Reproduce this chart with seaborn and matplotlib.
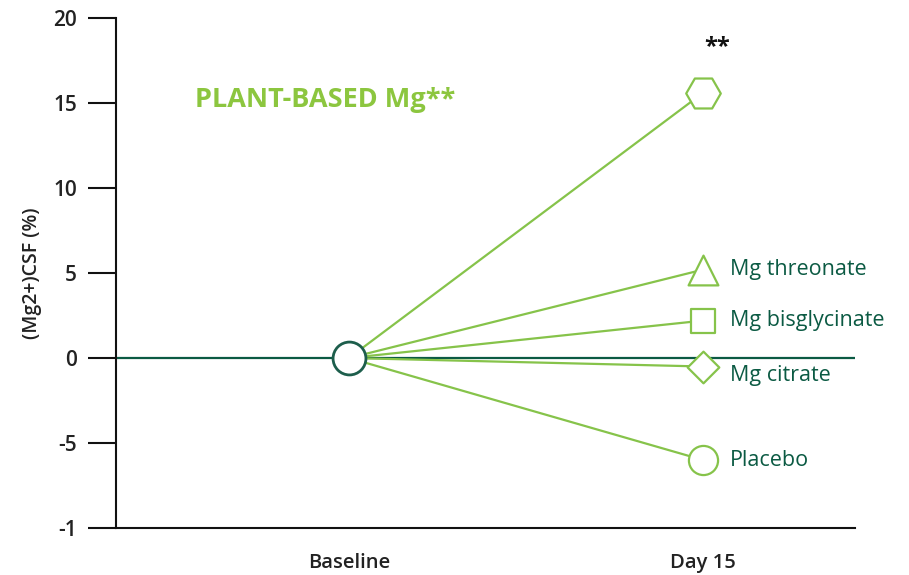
import numpy as np
import pandas as pd
import matplotlib
matplotlib.use("Agg")
import matplotlib.pyplot as plt
import seaborn as sns

# data
timepoints = ["Baseline", "Day 15"]
series = ["Plant-based Mg", "Mg threonate", "Mg bisglycinate", "Mg citrate", "Placebo"]
day15_values = [15.6, 5.2, 2.2, -0.5, -6.0]
baseline_values = [0, 0, 0, 0, 0]
markers = ["H", "^", "s", "D", "o"]
labels_right = ["", "Mg threonate", "Mg bisglycinate", "Mg citrate", "Placebo"]
label_y = [None, 5.2, 2.2, -1.05, -6.0]
ytick_vals = [-10, -5, 0, 5, 10, 15, 20]
ytick_labels = ["-1", "-5", "0", "5", "10", "15", "20"]

LIGHT = "#86c34a"
DARK = "#0b5a43"

rows = []
for s, b, d in zip(series, baseline_values, day15_values):
    rows.append({"series": s, "x": 0, "value": b})
    rows.append({"series": s, "x": 1, "value": d})
df = pd.DataFrame(rows)

sns.set_style("white")
plt.rcParams["font.family"] = ["Open Sans", "DejaVu Sans"]

fig = plt.figure(figsize=(9.09, 5.75), dpi=100)
ax = fig.add_axes([0.1276, 0.0817, 0.813, 0.887])

ax.axhline(0, color=DARK, lw=1.6, zorder=1)

sns.lineplot(data=df, x="x", y="value", units="series", estimator=None,
             color=LIGHT, lw=1.6, ax=ax, zorder=2)

# markers at day 15
sizes = [620, 460, 280, 260, 440]
for s, v, m, sz in zip(series, day15_values, markers, sizes):
    sns.scatterplot(x=[1], y=[v], marker=m, s=sz, facecolor="white",
                    edgecolor=LIGHT, linewidth=1.6, ax=ax, zorder=4)

# baseline circle
sns.scatterplot(x=[0], y=[0], marker="o", s=560, facecolor="white",
                edgecolor="#1d5e4c", linewidth=2.0, ax=ax, zorder=5)

for lab, v in zip(labels_right, label_y):
    if lab:
        ax.text(1.075, v, lab, color=DARK, fontsize=15.5, va="center", ha="left")

ax.text(1.04, 18.3, "**", color="#111111", fontsize=17, fontweight="bold",
        ha="center", va="center")
ax.text(-0.435, 15.2, "PLANT-BASED Mg**", color="#8cc63f", fontsize=19.5,
        fontweight="bold", ha="left", va="center")

ax.set_xlim(-0.658, 1.429)
ax.set_ylim(-10, 20)
ax.set_xticks([0, 1])
ax.set_xticklabels(timepoints, fontsize=14.5, color="#222222", fontweight="semibold")
ax.set_yticks(ytick_vals)
ax.set_yticklabels(ytick_labels, fontsize=15, color="#222222", fontweight="semibold")
ax.tick_params(axis="y", length=20, width=1.5, color="#111111", pad=8, left=True)
ax.tick_params(axis="x", length=0, pad=18)
ax.set_xlabel("")
ax.set_ylabel("(Mg2+)CSF (%)", fontsize=14, color="#222222", labelpad=8,
              fontweight="semibold")

sns.despine(ax=ax, top=True, right=True)
for sp in ["left", "bottom"]:
    ax.spines[sp].set_color("#111111")
    ax.spines[sp].set_linewidth(1.5)
ax.get_legend() and ax.get_legend().remove()

fig.savefig("out.png", dpi=100)
